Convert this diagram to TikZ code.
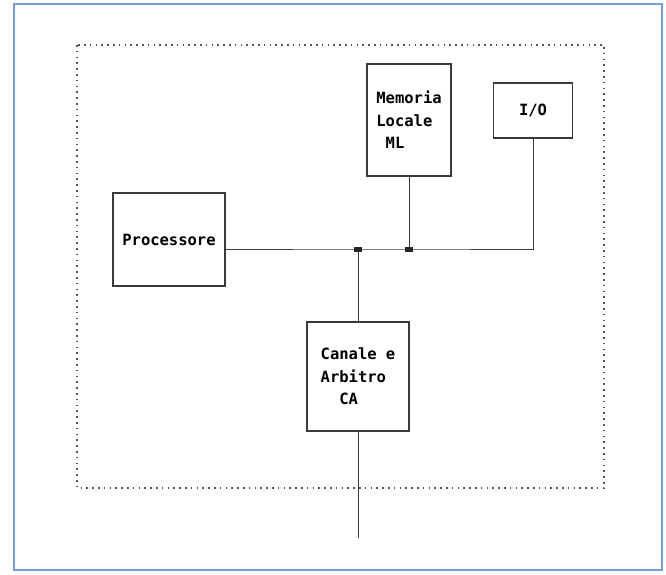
\documentclass[tikz,border=0pt]{standalone}
\usepackage{fontspec}
\setmonofont{DejaVu Sans Mono}
\usepackage{tikz}
\usetikzlibrary{positioning,calc}
\definecolor{pageframe}{HTML}{6F9FDC}
\definecolor{boardline}{HTML}{555555}
\definecolor{boxline}{HTML}{3A3A3A}
\tikzstyle{unit} = [draw=boxline, line width=1.4pt, fill=white, align=left, font=\ttfamily\bfseries\fontsize{15.5}{22.5}\selectfont, inner sep=0pt]
\tikzstyle{wire} = [draw=boxline, line width=0.9pt]
\tikzstyle{tap} = [fill=black!85, minimum width=8pt, minimum height=5pt, inner sep=0pt]

\begin{document}
\begin{tikzpicture}[x=1pt, y=-1pt]
\useasboundingbox (0,0) rectangle (666,574);
\draw[pageframe, line width=2pt] (14,4) rectangle (662,570);
\draw[boardline, line width=1.6pt, dash pattern=on 1.6pt off 4.2pt] (77,45) rectangle (604,488);

% units
\node[unit, minimum width=112pt, minimum height=93pt] (proc) at (169,239.5) {Processore};
\node[unit, minimum width=84pt, minimum height=112pt] (mem) at (409,120) {Memoria\\Locale\\~ML};
\node[unit, minimum width=79pt, minimum height=55pt] (io) at (533,110.5) {I/O};
\node[unit, minimum width=102pt, minimum height=109pt] (ca) at (358,376.5) {Canale e\\Arbitro\\~~CA};

% bus
\coordinate (j1) at (358,249);
\coordinate (j2) at (409,249);
\coordinate (tail) at (358,538);
\draw[wire] (proc.east |- j1) -- (j1) -- (j2) -- (io.south |- j2) -- (io.south);
\draw[wire] (mem.south) -- (j2);
\draw[wire] (j1) -- (ca.north);
\draw[wire] (ca.south) -- (tail);
\node[tap] (t1) at (j1) {};
\node[tap] (t2) at (j2) {};
\end{tikzpicture}
\end{document}
